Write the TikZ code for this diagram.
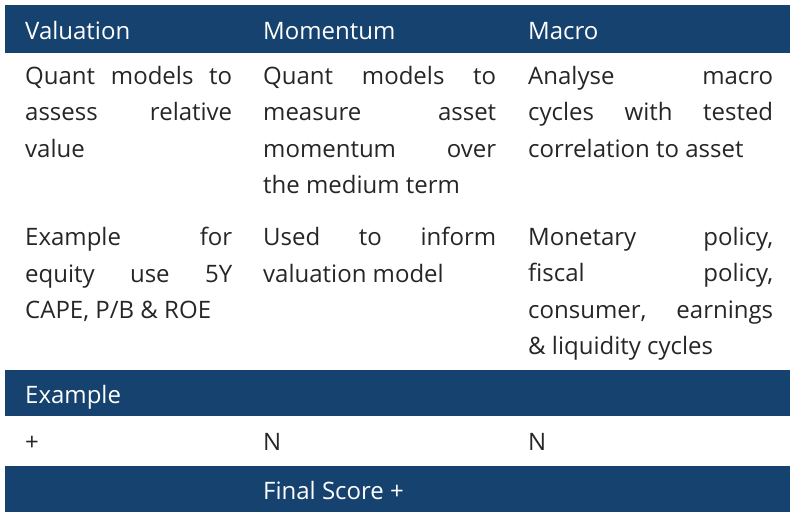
\documentclass[tikz,border=0pt]{standalone}
\usepackage{fontspec}
\setmainfont{Open Sans}
\begin{document}
\begin{tikzpicture}[
	x=1pt, y=-1pt,
	bar/.style ={fill=navy, draw=none},
	headtxt/.style ={anchor=base west, inner sep=0, text=white, font=\fontsize{24}{36.5}\selectfont},
	celltxt/.style ={anchor=north west, inner sep=0, align=justify, text=black!85, font=\fontsize{24}{36.5}\selectfont}]

	\definecolor{navy}{HTML}{15426E}
	\useasboundingbox (0,0) rectangle (795,522);

	\def\colA{25}
	\def\colB{263}
	\def\colC{528}

	% bars
	\fill[navy] (5,5) rectangle (790,53);
	\fill[navy] (5,370) rectangle (790,416);
	\fill[navy] (5,466) rectangle (790,512);

	% header
	\node[headtxt] (hval) at (\colA,39) {Valuation};
	\node[headtxt] (hmom) at (\colB,39) {Momentum};
	\node[headtxt] (hmac) at (\colC,39) {Macro};

	% descriptions
	\node[celltxt, text width=207] (dval) at (\colA,66) {Quant models to\linebreak assess relative\linebreak value};
	\node[celltxt, text width=233] (dmom) at (\colB,66) {Quant models to\linebreak measure asset\linebreak momentum over\linebreak the medium term};
	\node[celltxt, text width=245] (dmac) at (\colC,66) {Analyse macro\linebreak cycles with tested\linebreak correlation to asset};

	% examples
	\node[celltxt, text width=207] (eval) at (\colA,227) {Example for\linebreak equity use 5Y\linebreak CAPE, P/B \& ROE};
	\node[celltxt, text width=233] (emom) at (\colB,227) {Used to inform\linebreak valuation model};
	\node[celltxt, text width=245] (emac) at (\colC,227) {Monetary policy,\linebreak fiscal policy,\linebreak consumer, earnings\linebreak\& liquidity cycles};

	\node[headtxt] (hex) at (\colA,403) {Example};

	% scores
	\node[headtxt, text=black!85] (sval) at (\colA,450) {+};
	\node[headtxt, text=black!85] (smom) at (\colB,450) {N};
	\node[headtxt, text=black!85] (smac) at (\colC,450) {N};

	\node[headtxt] (final) at (\colB,499) {Final Score +};

\end{tikzpicture}
\end{document}
